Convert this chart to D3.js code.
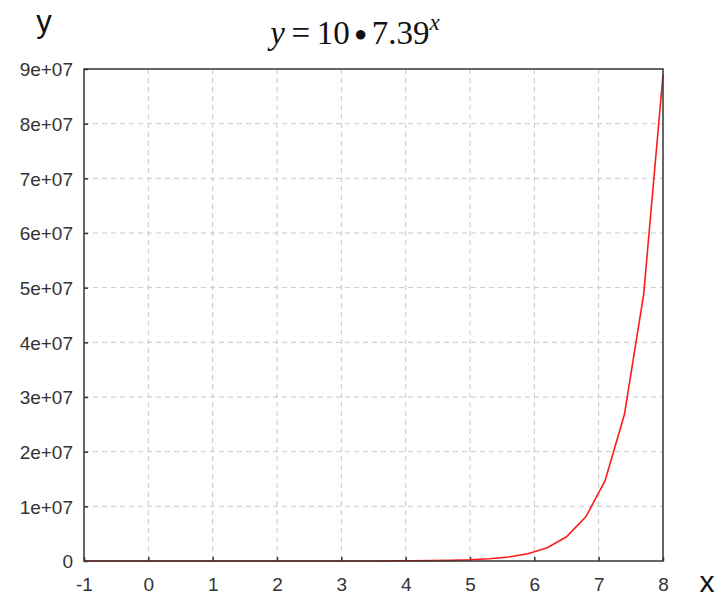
<!DOCTYPE html>
<html>
<head>
<meta charset="utf-8">
<script src="https://cdn.jsdelivr.net/npm/d3@7"></script>
<style>
  html, body { margin: 0; padding: 0; background: #fff; }
  svg { display: block; }
</style>
</head>
<body>
<svg id="chart" width="719" height="598"></svg>
<script>
// Sample points of y = 10 * 7.39^x, every 0.3 from -1 to 8
const xValues = [-1, -0.7, -0.4, -0.1, 0.2, 0.5, 0.8, 1.1, 1.4, 1.7, 2.0, 2.3, 2.6, 2.9, 3.2,
  3.5, 3.8, 4.1, 4.4, 4.7, 5.0, 5.3, 5.6, 5.9, 6.2, 6.5, 6.8, 7.1, 7.4, 7.7, 8.0];
const yValues = [1.35, 2.47, 4.49, 8.19, 14.9, 27.2, 49.5, 90.2, 164, 300, 546, 995, 1811, 3300, 6013,
  10964, 19985, 36428, 66397, 121040, 220400, 401600, 731800, 1333500, 2430000, 4428000, 8068000,
  14702000, 26790000, 48820000, 88950000];
const xTicks = [-1, 0, 1, 2, 3, 4, 5, 6, 7, 8];
const xTickLabels = ["-1", "0", "1", "2", "3", "4", "5", "6", "7", "8"];
const yTicks = [0, 1e7, 2e7, 3e7, 4e7, 5e7, 6e7, 7e7, 8e7, 9e7];
const yTickLabels = ["0", "1e+07", "2e+07", "3e+07", "4e+07", "5e+07", "6e+07", "7e+07", "8e+07", "9e+07"];

const svg = d3.select("#chart");
const plot = { left: 84, top: 69, right: 663, bottom: 561 };

const x = d3.scaleLinear().domain([-1, 8]).range([plot.left, plot.right]);
const y = d3.scaleLinear().domain([0, 9e7]).range([plot.bottom, plot.top]);

const labelFont = "Liberation Sans, Arial, sans-serif";

// dashed grid
const grid = svg.append("g");
grid.selectAll("line.vx").data(xTicks.slice(1, -1)).join("line")
  .attr("x1", d => x(d)).attr("x2", d => x(d))
  .attr("y1", plot.top).attr("y2", plot.bottom)
  .attr("stroke", "#c8c8c8").attr("stroke-width", 1).attr("stroke-dasharray", "5,4");
grid.selectAll("line.hy").data(yTicks.slice(1, -1)).join("line")
  .attr("x1", plot.left).attr("x2", plot.right)
  .attr("y1", d => y(d)).attr("y2", d => y(d))
  .attr("stroke", "#c8c8c8").attr("stroke-width", 1).attr("stroke-dasharray", "5,4");

// axes with inward ticks
const xAxis = svg.append("g")
  .attr("transform", `translate(0,${plot.bottom})`)
  .call(d3.axisBottom(x).tickValues(xTicks).tickSizeInner(-4).tickSizeOuter(0)
    .tickFormat((d, i) => xTickLabels[i]));
const yAxis = svg.append("g")
  .attr("transform", `translate(${plot.left},0)`)
  .call(d3.axisLeft(y).tickValues(yTicks).tickSizeInner(-4).tickSizeOuter(0).tickPadding(11)
    .tickFormat((d, i) => yTickLabels[i]));
[xAxis, yAxis].forEach(g => {
  g.select(".domain").remove();
  g.selectAll(".tick line").attr("stroke", "#333").attr("stroke-width", 1.5);
  g.selectAll(".tick text").attr("fill", "#333").attr("font-family", labelFont).attr("font-size", 19);
});
xAxis.selectAll(".tick text").attr("dy", "0.32em").attr("y", 24);
yAxis.selectAll(".tick text").attr("dy", "0.36em");

// data line
const line = d3.line().x((d, i) => x(xValues[i])).y(d => y(d));
svg.append("path").datum(yValues)
  .attr("d", line)
  .attr("fill", "none").attr("stroke", "#ff1a1a").attr("stroke-width", 1.6);

// frame
svg.append("rect")
  .attr("x", plot.left).attr("y", plot.top)
  .attr("width", plot.right - plot.left).attr("height", plot.bottom - plot.top)
  .attr("fill", "none").attr("stroke", "#333").attr("stroke-width", 1.5);

// axis names
svg.append("text").attr("x", 44).attr("y", 32).attr("text-anchor", "middle")
  .attr("font-family", labelFont).attr("font-size", 31).attr("fill", "#111").text("y");
svg.append("text").attr("x", 707).attr("y", 592).attr("text-anchor", "middle")
  .attr("font-family", labelFont).attr("font-size", 30).attr("fill", "#111").text("x");

// title formula
const title = svg.append("text").attr("x", 355).attr("y", 44).attr("text-anchor", "middle")
  .attr("font-family", "Liberation Serif, Times New Roman, serif").attr("font-size", 33).attr("fill", "#111");
title.append("tspan").attr("font-style", "italic").text("y");
title.append("tspan").text("\u2009=\u200910");
title.append("tspan").attr("font-size", 22).attr("dy", -3).text("\u2009\u25CF\u2009");
title.append("tspan").attr("dy", 3).text("7.39");
title.append("tspan").attr("font-style", "italic").attr("font-size", 23).attr("dy", -14).text("x");
</script>
</body>
</html>
